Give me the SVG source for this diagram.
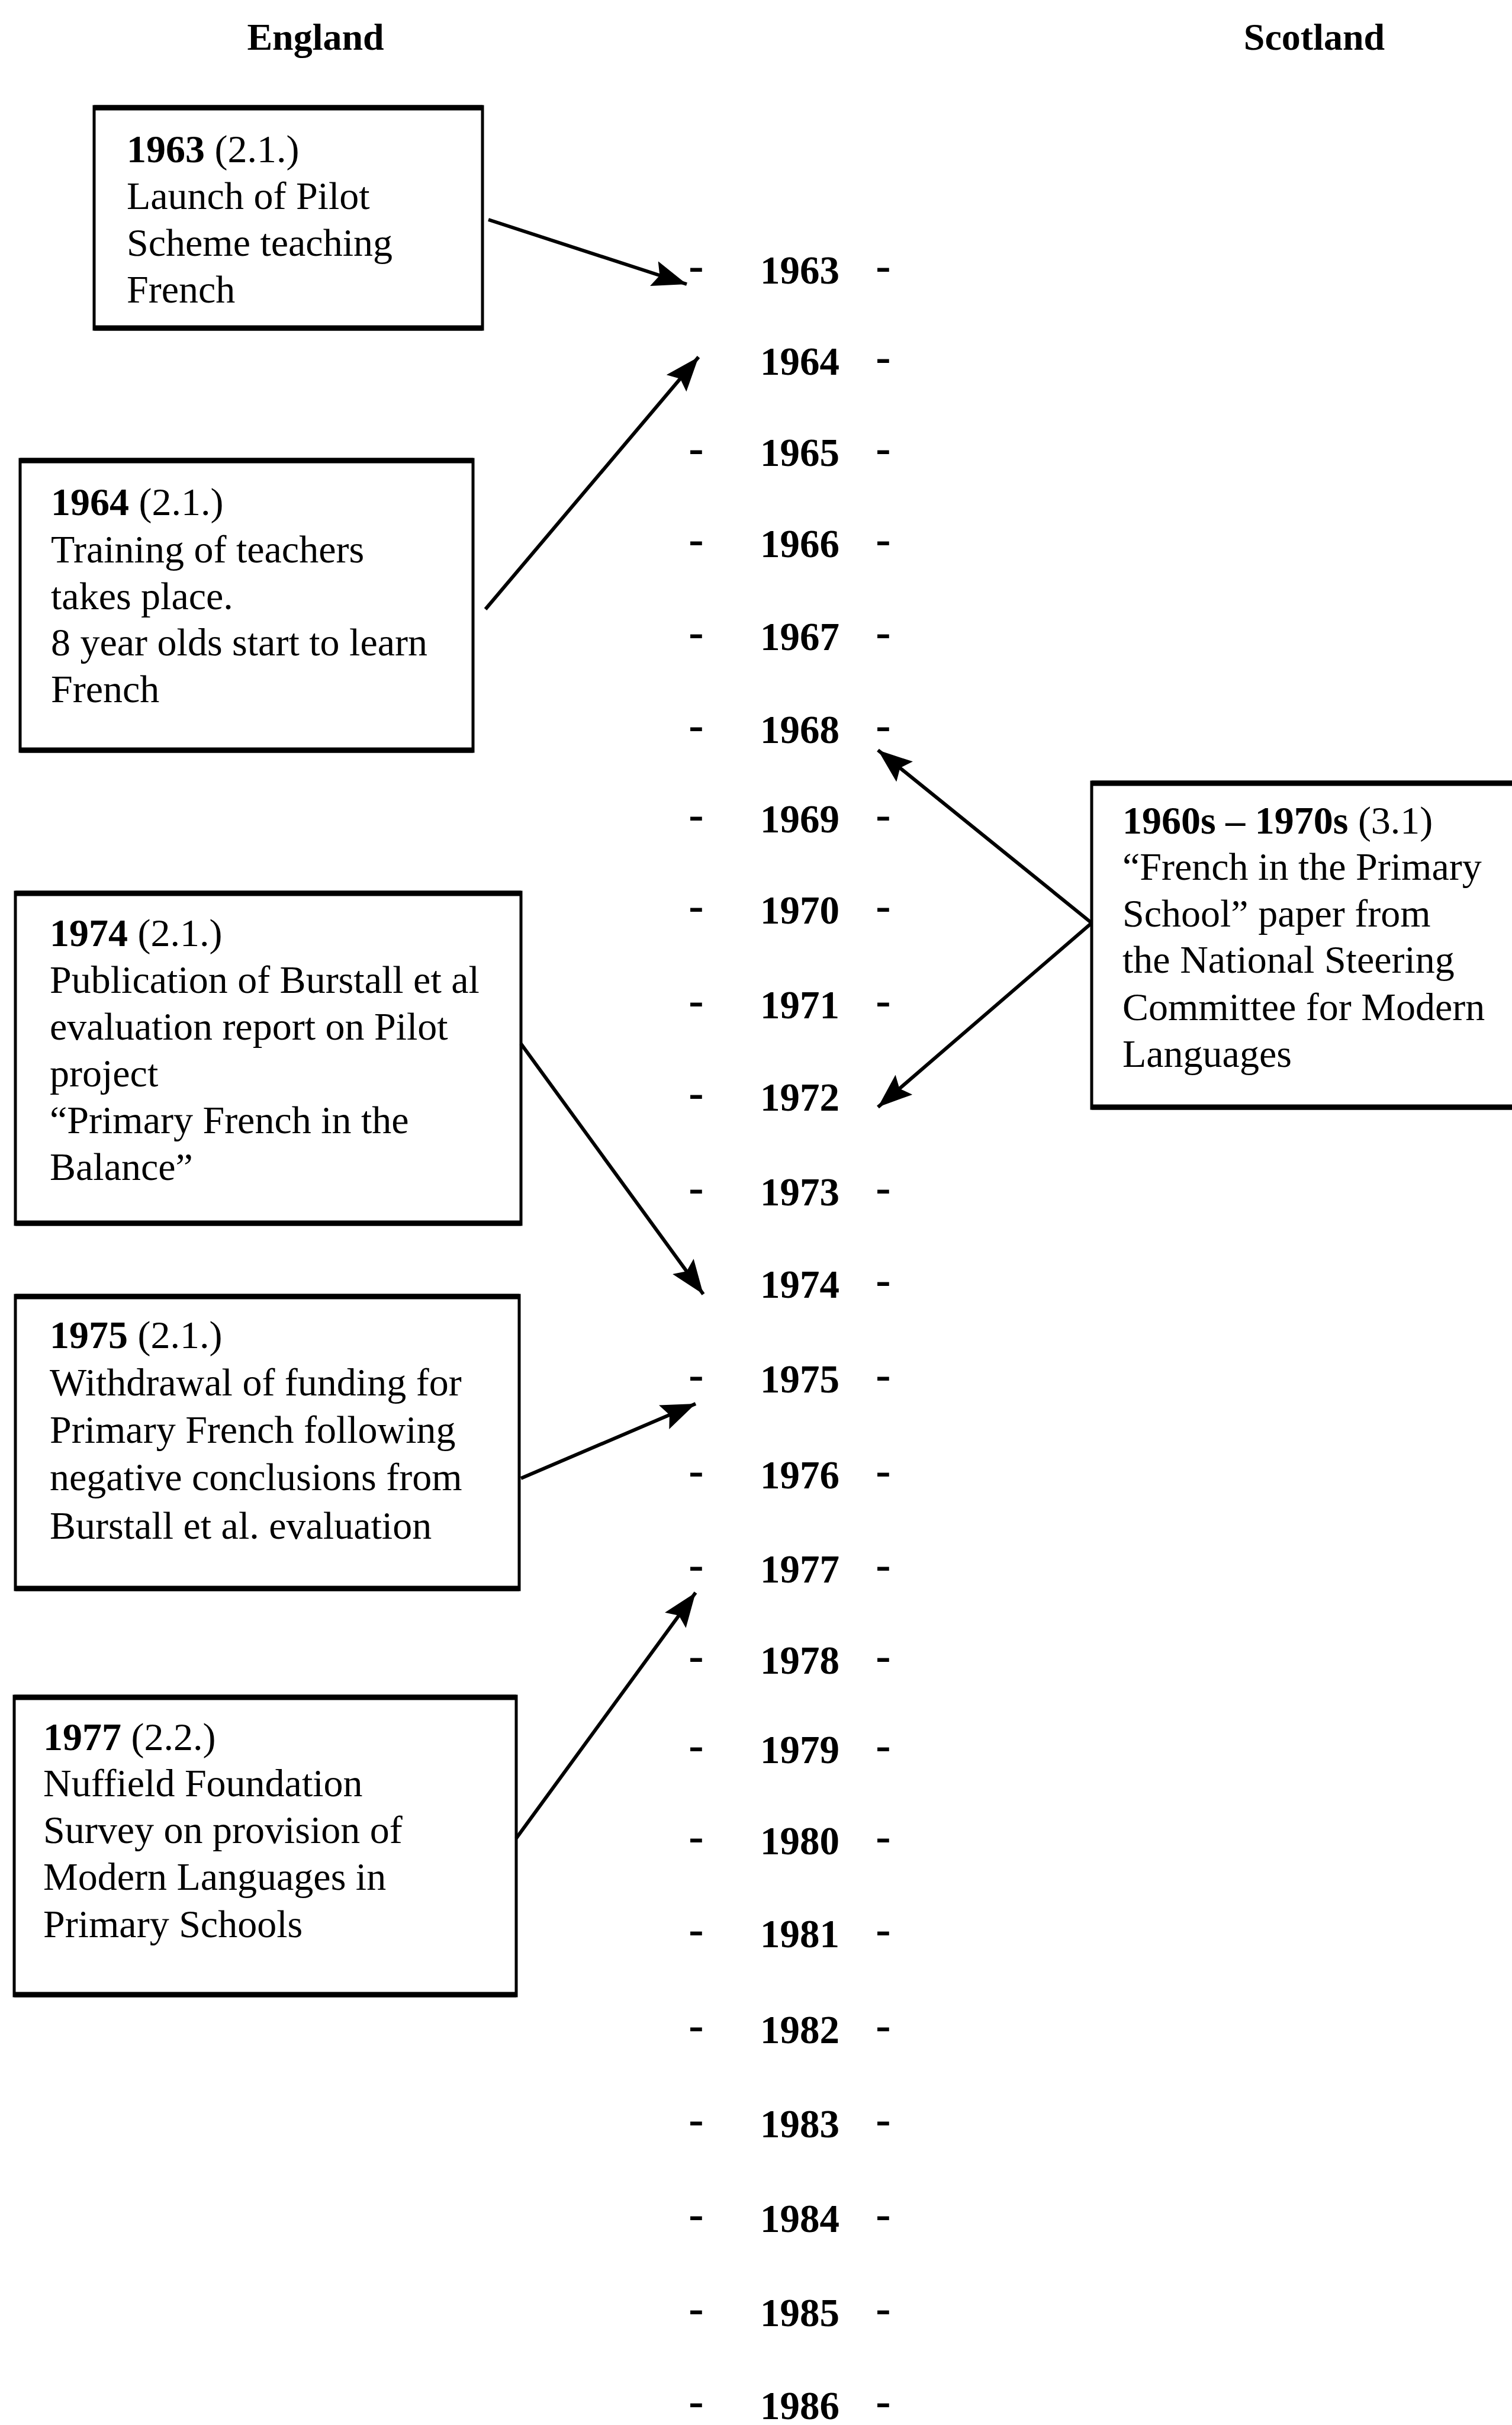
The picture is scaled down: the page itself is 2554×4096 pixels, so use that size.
<svg xmlns="http://www.w3.org/2000/svg" width="2554" height="4096" viewBox="0 0 2554 4096">
<style>
.hdr{font-family:"Liberation Serif","Times New Roman",serif;font-weight:bold;font-size:64px;text-anchor:middle;fill:#000}
.yr{font-family:"Liberation Serif","Times New Roman",serif;font-weight:bold;font-size:67px;text-anchor:middle;fill:#000}
.dash{font-family:"Liberation Serif","Times New Roman",serif;font-weight:bold;font-size:76px;text-anchor:middle;fill:#000}
.box{fill:#fff;stroke:#000;stroke-width:5}
.edge{fill:none;stroke:#000;stroke-width:9}
.txt{font-family:"Liberation Serif","Times New Roman",serif;font-size:66px;fill:#000}
.b{font-weight:bold}
.conn{fill:none;stroke:#000;stroke-width:6}
</style>
<defs>
<marker id="ah" markerUnits="userSpaceOnUse" markerWidth="64" markerHeight="48" refX="58" refY="22" orient="auto">
<path d="M0,0 L58,22 L0,44 L10,22 z" fill="#000"/>
</marker>
</defs>
<rect width="2554" height="4096" fill="#fff"/>

<g id="headers">
<text class="hdr" x="533" y="84">England</text>
<text class="hdr" x="2220" y="84">Scotland</text>
</g>

<g id="timeline">
<text class="yr" x="1351" y="479">1963</text><text class="dash" x="1176" y="474">-</text><text class="dash" x="1492" y="474">-</text>
<text class="yr" x="1351" y="633">1964</text><text class="dash" x="1492" y="628">-</text>
<text class="yr" x="1351" y="787">1965</text><text class="dash" x="1176" y="782">-</text><text class="dash" x="1492" y="782">-</text>
<text class="yr" x="1351" y="941">1966</text><text class="dash" x="1176" y="936">-</text><text class="dash" x="1492" y="936">-</text>
<text class="yr" x="1351" y="1098">1967</text><text class="dash" x="1176" y="1093">-</text><text class="dash" x="1492" y="1093">-</text>
<text class="yr" x="1351" y="1255">1968</text><text class="dash" x="1176" y="1250">-</text><text class="dash" x="1492" y="1250">-</text>
<text class="yr" x="1351" y="1406">1969</text><text class="dash" x="1176" y="1401">-</text><text class="dash" x="1492" y="1401">-</text>
<text class="yr" x="1351" y="1560">1970</text><text class="dash" x="1176" y="1555">-</text><text class="dash" x="1492" y="1555">-</text>
<text class="yr" x="1351" y="1720">1971</text><text class="dash" x="1176" y="1715">-</text><text class="dash" x="1492" y="1715">-</text>
<text class="yr" x="1351" y="1876">1972</text><text class="dash" x="1176" y="1871">-</text>
<text class="yr" x="1351" y="2036">1973</text><text class="dash" x="1176" y="2031">-</text><text class="dash" x="1492" y="2031">-</text>
<text class="yr" x="1351" y="2192">1974</text><text class="dash" x="1492" y="2187">-</text>
<text class="yr" x="1351" y="2352">1975</text><text class="dash" x="1176" y="2347">-</text><text class="dash" x="1492" y="2347">-</text>
<text class="yr" x="1351" y="2514">1976</text><text class="dash" x="1176" y="2509">-</text><text class="dash" x="1492" y="2509">-</text>
<text class="yr" x="1351" y="2673">1977</text><text class="dash" x="1176" y="2668">-</text><text class="dash" x="1492" y="2668">-</text>
<text class="yr" x="1351" y="2827">1978</text><text class="dash" x="1176" y="2822">-</text><text class="dash" x="1492" y="2822">-</text>
<text class="yr" x="1351" y="2978">1979</text><text class="dash" x="1176" y="2973">-</text><text class="dash" x="1492" y="2973">-</text>
<text class="yr" x="1351" y="3132">1980</text><text class="dash" x="1176" y="3127">-</text><text class="dash" x="1492" y="3127">-</text>
<text class="yr" x="1351" y="3289">1981</text><text class="dash" x="1176" y="3284">-</text><text class="dash" x="1492" y="3284">-</text>
<text class="yr" x="1351" y="3451">1982</text><text class="dash" x="1176" y="3446">-</text><text class="dash" x="1492" y="3446">-</text>
<text class="yr" x="1351" y="3610">1983</text><text class="dash" x="1176" y="3605">-</text><text class="dash" x="1492" y="3605">-</text>
<text class="yr" x="1351" y="3770">1984</text><text class="dash" x="1176" y="3765">-</text><text class="dash" x="1492" y="3765">-</text>
<text class="yr" x="1351" y="3929">1985</text><text class="dash" x="1176" y="3924">-</text><text class="dash" x="1492" y="3924">-</text>
<text class="yr" x="1351" y="4086">1986</text><text class="dash" x="1176" y="4081">-</text><text class="dash" x="1492" y="4081">-</text>
</g>

<g id="node-1963">
<rect class="box" x="159" y="180" width="656" height="376"/>
<path class="edge" d="M159,182 H815 M159,554 H815"/>
<text class="txt" x="214" y="274"><tspan class="b">1963</tspan> (2.1.)</text>
<text class="txt" x="214" y="353">Launch of Pilot</text>
<text class="txt" x="214" y="432">Scheme teaching</text>
<text class="txt" x="214" y="511">French</text>
</g>

<g id="node-1964">
<rect class="box" x="34" y="776" width="765" height="493"/>
<path class="edge" d="M34,778 H799 M34,1267 H799"/>
<text class="txt" x="86" y="870"><tspan class="b">1964</tspan> (2.1.)</text>
<text class="txt" x="86" y="950">Training of teachers</text>
<text class="txt" x="86" y="1029">takes place.</text>
<text class="txt" x="86" y="1107">8 year olds start to learn</text>
<text class="txt" x="86" y="1186">French</text>
</g>

<g id="node-1974">
<rect class="box" x="26" y="1507" width="854" height="561"/>
<path class="edge" d="M26,1509 H880 M26,2066 H880"/>
<text class="txt" x="84" y="1598"><tspan class="b">1974</tspan> (2.1.)</text>
<text class="txt" x="84" y="1677">Publication of Burstall et al</text>
<text class="txt" x="84" y="1756">evaluation report on Pilot</text>
<text class="txt" x="84" y="1835">project</text>
<text class="txt" x="84" y="1914">“Primary French in the</text>
<text class="txt" x="84" y="1993">Balance”</text>
</g>

<g id="node-1975">
<rect class="box" x="26" y="2188" width="851" height="497"/>
<path class="edge" d="M26,2190 H877 M26,2683 H877"/>
<text class="txt" x="84" y="2277"><tspan class="b">1975</tspan> (2.1.)</text>
<text class="txt" x="84" y="2357">Withdrawal of funding for</text>
<text class="txt" x="84" y="2437">Primary French following</text>
<text class="txt" x="84" y="2517">negative conclusions from</text>
<text class="txt" x="84" y="2599">Burstall et al. evaluation</text>
</g>

<g id="node-1977">
<rect class="box" x="24" y="2865" width="848" height="506"/>
<path class="edge" d="M24,2867 H872 M24,3369 H872"/>
<text class="txt" x="73" y="2956"><tspan class="b">1977</tspan> (2.2.)</text>
<text class="txt" x="73" y="3034">Nuffield Foundation</text>
<text class="txt" x="73" y="3113">Survey on provision of</text>
<text class="txt" x="73" y="3192">Modern Languages in</text>
<text class="txt" x="73" y="3272">Primary Schools</text>
</g>

<g id="node-scotland">
<rect class="box" x="1844" y="1321" width="730" height="551"/>
<path class="edge" d="M1844,1323 H2574 M1844,1870 H2574"/>
<text class="txt" x="1896" y="1408"><tspan class="b">1960s – 1970s</tspan> (3.1)</text>
<text class="txt" x="1896" y="1486">“French in the Primary</text>
<text class="txt" x="1896" y="1565">School” paper from</text>
<text class="txt" x="1896" y="1643">the National Steering</text>
<text class="txt" x="1896" y="1723">Committee for Modern</text>
<text class="txt" x="1896" y="1802">Languages</text>
</g>

<g id="connectors">
<line class="conn" x1="825" y1="371" x2="1160" y2="480" marker-end="url(#ah)"/>
<line class="conn" x1="820" y1="1029" x2="1180" y2="603" marker-end="url(#ah)"/>
<line class="conn" x1="880" y1="1763" x2="1188" y2="2186" marker-end="url(#ah)"/>
<line class="conn" x1="880" y1="2497" x2="1175" y2="2371" marker-end="url(#ah)"/>
<line class="conn" x1="872" y1="3105" x2="1175" y2="2690" marker-end="url(#ah)"/>
<line class="conn" x1="1844" y1="1559" x2="1483" y2="1267" marker-end="url(#ah)"/>
<line class="conn" x1="1844" y1="1559" x2="1483" y2="1870" marker-end="url(#ah)"/>
</g>
</svg>
